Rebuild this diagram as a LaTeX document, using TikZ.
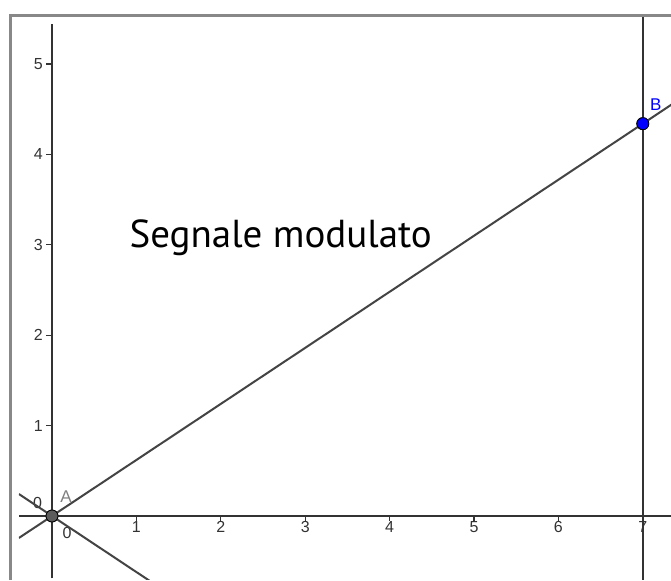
\documentclass[tikz,border=0pt]{standalone}
\usepackage{fontspec}
\setmainfont{Liberation Sans}
\newfontfamily\titlefont{PT Sans}
\usetikzlibrary{calc, positioning}
\definecolor{axisgray}{HTML}{333333}
\definecolor{linegray}{HTML}{444444}
\definecolor{framegray}{HTML}{888888}
\definecolor{ptblue}{HTML}{0000FF}
\tikzset{
	axis/.style={draw=axisgray, line width=1.6pt},
	tick/.style={draw=axisgray, line width=1.2pt},
	ticklabel/.style={font=\fontsize{16}{16}\selectfont, text=axisgray, inner sep=1pt},
	line/.style={draw=linegray, line width=2pt},
	point/.style={circle, draw=black, fill=#1, line width=0.8pt, minimum size=12pt, inner sep=0pt},
	ptlabel/.style={font=\fontsize{17}{17}\selectfont, inner sep=0pt}
}

\begin{document}
\begin{tikzpicture}[x=84.4pt, y=90.4pt]
			% Picture frame (671 x 580)
			\useasboundingbox (-0.6161,-0.708) rectangle (7.3341,5.708);
			\fill[white] (-0.6161,-0.708) rectangle (7.3341,5.708);
			\draw[framegray, line width=3pt] (-0.4976,-0.708) -- (-0.4976,5.5354) -- (7.3341,5.5354);
			
			% Points
			\node[point=axisgray!80] (A) at (0,0) {};
			\node[point=ptblue] (B) at (7,4.34) {};
			\node[ptlabel, text=gray] (A-lab) at ($(A)+(14pt,19pt)$) {A};
			\node[ptlabel, text=ptblue] (B-lab) at ($(B)+(13pt,19pt)$) {B};
			
			% Line ends
			\coordinate (O) at (0,0);
			\coordinate (C) at (7,-4.34);
			\coordinate (AB-1) at ($(O)!-0.056!(B)$);
			\coordinate (AB-2) at ($(O)!1.2!(B)$);
			\coordinate (AC-1) at ($(O)!-0.056!(C)$);
			\coordinate (AC-2) at ($(O)!0.2!(C)$);
			\coordinate (X-1) at (-0.39,0);
			\coordinate (X-2) at (7.34,0);
			\coordinate (Y-1) at (0,-0.69);
			\coordinate (Y-2) at (0,5.44);
			\coordinate (V-1) at (7,-0.71);
			\coordinate (V-2) at (7,5.52);
			
			\begin{scope}
			\clip (-0.391,-0.70) rectangle (7.3341,5.52);
			% Axes
			\draw[axis] (X-1) -- (X-2);
			\draw[axis] (Y-1) -- (Y-2);
			\foreach \i in {1,...,7}
			{
				\draw[tick] (\i,0) -- (\i,-0.06);
				\node[ticklabel, below=4pt] (xl-\i) at (\i,0) {\i};
			}
			\foreach \i in {1,...,5}
			{
				\draw[tick] (0,\i) -- (-0.07,\i);
				\node[ticklabel, left=8pt] (yl-\i) at (0,\i) {\i};
			}
			\node[ticklabel] (xl-0) at (0.18,-0.19) {0};
			\node[ticklabel] (yl-0) at (-0.17,0.14) {0};
			% Lines
			\draw[line] (AB-1) -- (AB-2);
			\draw[line] (AC-1) -- (AC-2);
			\draw[axis, line width=1.4pt] (V-1) -- (V-2);
			\end{scope}
			
			% Redraw points on top
			\node[point=axisgray!80] at (A) {};
			\node[point=ptblue] at (B) {};
			
			\node[font=\titlefont\fontsize{39}{39}\selectfont, anchor=base] (title) at (2.71,2.97) {Segnale modulato};
\end{tikzpicture}
\end{document}
